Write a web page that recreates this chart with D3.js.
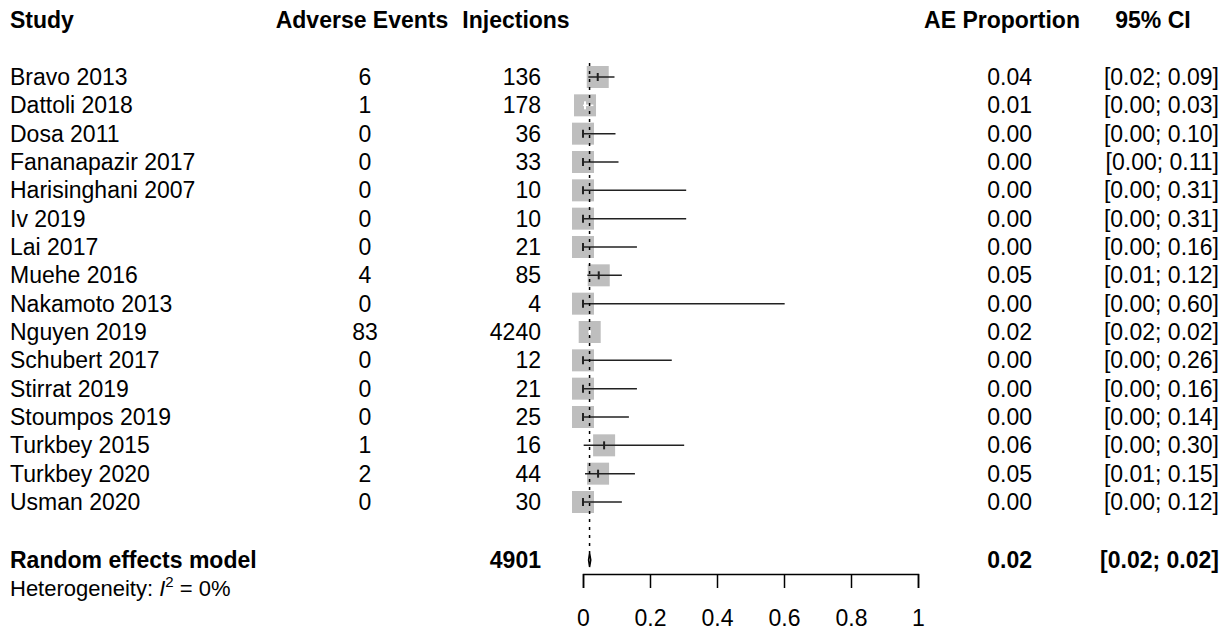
<!DOCTYPE html>
<html>
<head>
<meta charset="utf-8">
<script src="https://cdn.jsdelivr.net/npm/d3@7"></script>
<style>
  body { margin: 0; background: #fff; }
  text { font-family: "Liberation Sans", Arial, sans-serif; fill: #000; }
</style>
</head>
<body>
<div class="forest"></div>
<script>
// study data
const studies = ["Bravo 2013", "Dattoli 2018", "Dosa 2011", "Fananapazir 2017", "Harisinghani 2007", "Iv 2019",
    "Lai 2017", "Muehe 2016", "Nakamoto 2013", "Nguyen 2019", "Schubert 2017", "Stirrat 2019",
    "Stoumpos 2019", "Turkbey 2015", "Turkbey 2020", "Usman 2020"];
const events = [6, 1, 0, 0, 0, 0, 0, 4, 0, 83, 0, 0, 0, 1, 2, 0];
const injections = [136, 178, 36, 33, 10, 10, 21, 85, 4, 4240, 12, 21, 25, 16, 44, 30];
const props = [0.044, 0.006, 0, 0, 0, 0, 0, 0.047, 0, 0.020, 0, 0, 0, 0.063, 0.045, 0];
const lower = [0.016, 0.000, 0, 0, 0, 0, 0, 0.013, 0, 0.016, 0, 0, 0, 0.002, 0.006, 0];
const upper = [0.094, 0.031, 0.097, 0.106, 0.308, 0.308, 0.161, 0.116, 0.602, 0.024, 0.265, 0.161, 0.137, 0.302, 0.155, 0.116];
const propLabels = ["0.04", "0.01", "0.00", "0.00", "0.00", "0.00", "0.00", "0.05", "0.00", "0.02", "0.00", "0.00", "0.00", "0.06", "0.05", "0.00"];
const ciLabels = ["[0.02; 0.09]", "[0.00; 0.03]", "[0.00; 0.10]", "[0.00; 0.11]", "[0.00; 0.31]", "[0.00; 0.31]",
    "[0.00; 0.16]", "[0.01; 0.12]", "[0.00; 0.60]", "[0.02; 0.02]", "[0.00; 0.26]", "[0.00; 0.16]",
    "[0.00; 0.14]", "[0.00; 0.30]", "[0.01; 0.15]", "[0.00; 0.12]"];
// pooled
const pooled = { total: 4901, est: 0.0196, lo: 0.0166, hi: 0.0232, label: "0.02", ci: "[0.02; 0.02]" };
const xTicks = [0, 0.2, 0.4, 0.6, 0.8, 1];

const width = 1232, height = 630;
const fs = 23;
const boxSize = 22;

const svg = d3.select(".forest").append("svg")
    .attr("width", width)
    .attr("height", height);

const x = d3.scaleLinear().domain([0, 1]).range([583, 918]);
const y = d3.scaleLinear().domain([0, studies.length - 1]).range([77, 502]);

//headers
const headers = [
    { t: "Study", x: 10, a: "start" },
    { t: "Adverse Events", x: 362, a: "middle" },
    { t: "Injections", x: 516, a: "middle" },
    { t: "AE Proportion", x: 1002, a: "middle" },
    { t: "95% CI", x: 1153, a: "middle" }
];
svg.append("g").selectAll("text")
    .data(headers)
    .enter()
    .append("text")
    .attr("x", d => d.x)
    .attr("y", 28)
    .attr("text-anchor", d => d.a)
    .style("font-weight", "bold")
    .style("font-size", fs + "px")
    .text(d => d.t);

// study rows
const rows = svg.append("g").selectAll("g")
    .data(studies)
    .enter()
    .append("g")
    .attr("transform", (d, i) => "translate(0," + y(i) + ")");

rows.append("text").attr("x", 10).attr("y", 8).style("font-size", fs + "px").text(d => d);
rows.append("text").attr("x", 365).attr("y", 8).attr("text-anchor", "middle").style("font-size", fs + "px")
    .text((d, i) => events[i]);
rows.append("text").attr("x", 541).attr("y", 8).attr("text-anchor", "end").style("font-size", fs + "px")
    .text((d, i) => injections[i]);
rows.append("text").attr("x", 1032).attr("y", 8).attr("text-anchor", "end").style("font-size", fs + "px")
    .text((d, i) => propLabels[i]);
rows.append("text").attr("x", 1219).attr("y", 8).attr("text-anchor", "end").style("font-size", fs + "px")
    .text((d, i) => ciLabels[i]);

// dotted line at pooled estimate
svg.append("line")
    .attr("x1", x(pooled.est)).attr("x2", x(pooled.est))
    .attr("y1", y(0) - 14).attr("y2", 553)
    .attr("stroke", "#000")
    .attr("stroke-width", 1.5)
    .attr("stroke-dasharray", "3,5");

// squares
rows.append("rect")
    .attr("x", (d, i) => x(props[i]) - boxSize / 2)
    .attr("y", -boxSize / 2)
    .attr("width", boxSize)
    .attr("height", boxSize)
    .attr("fill", "#bebebe");

// CI line, white when inside the box
const inside = i => x(lower[i]) >= x(props[i]) - boxSize / 2 && x(upper[i]) <= x(props[i]) + boxSize / 2;
rows.append("line")
    .attr("x1", (d, i) => x(lower[i]))
    .attr("x2", (d, i) => x(upper[i]))
    .attr("y1", 0).attr("y2", 0)
    .attr("stroke", (d, i) => inside(i) ? "#fff" : "#222")
    .attr("stroke-width", 1.5);
rows.append("line")
    .attr("x1", (d, i) => x(props[i]))
    .attr("x2", (d, i) => x(props[i]))
    .attr("y1", -4).attr("y2", 4)
    .attr("stroke", (d, i) => inside(i) ? "#fff" : "#222")
    .attr("stroke-width", 2);

// random effects row
const reY = 560;
svg.append("text").attr("x", 10).attr("y", reY + 8).style("font-weight", "bold").style("font-size", fs + "px")
    .text("Random effects model");
svg.append("text").attr("x", 541).attr("y", reY + 8).attr("text-anchor", "end").style("font-weight", "bold")
    .style("font-size", fs + "px").text(pooled.total);
svg.append("text").attr("x", 1032).attr("y", reY + 8).attr("text-anchor", "end").style("font-weight", "bold")
    .style("font-size", fs + "px").text(pooled.label);
svg.append("text").attr("x", 1219).attr("y", reY + 8).attr("text-anchor", "end").style("font-weight", "bold")
    .style("font-size", fs + "px").text(pooled.ci);
svg.append("path")
    .attr("d", d3.line()([[x(pooled.lo), reY], [x(pooled.est), reY - 7], [x(pooled.hi), reY], [x(pooled.est), reY + 7]]) + "Z")
    .attr("fill", "#bebebe")
    .attr("stroke", "#000")
    .attr("stroke-width", 1.5);

const het = svg.append("text").attr("x", 10).attr("y", 596).style("font-size", "22px");
het.append("tspan").text("Heterogeneity: ");
het.append("tspan").style("font-style", "italic").text("I");
het.append("tspan").attr("dy", -9).style("font-size", "15px").text("2");
het.append("tspan").attr("dy", 9).text(" = 0%");

// axis
const axis = svg.append("g")
    .attr("transform", "translate(0,574)")
    .call(d3.axisBottom(x).tickValues(xTicks).tickFormat(d3.format("")).tickSize(14).tickPadding(22));
axis.select(".domain").attr("stroke", "#000").attr("stroke-width", 1.5);
axis.selectAll(".tick line").attr("stroke", "#000").attr("stroke-width", 1.5);
axis.selectAll(".tick text").style("font-size", fs + "px").style("font-family", "Liberation Sans, Arial, sans-serif").attr("fill", "#000");
</script>
</body>
</html>
